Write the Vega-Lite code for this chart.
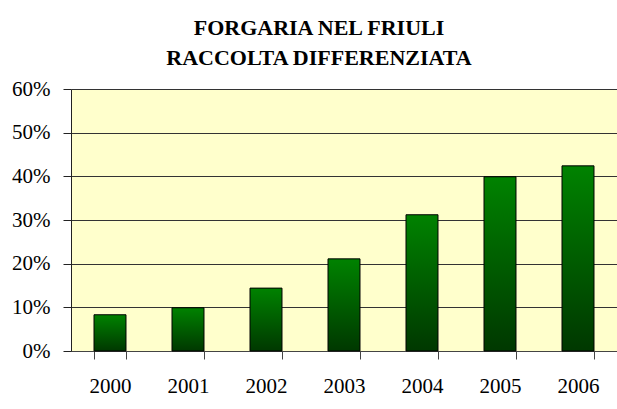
{
  "$schema": "https://vega.github.io/schema/vega-lite/v6.json",
  "width": 546,
  "height": 262,
  "autosize": {"type": "none"},
  "padding": {"left": 71, "top": 89, "right": 0, "bottom": 58},
  "background": "white",
  "title": {
    "text": ["FORGARIA NEL FRIULI", "RACCOLTA DIFFERENZIATA"],
    "font": "Liberation Serif",
    "fontSize": 22,
    "fontWeight": "bold",
    "lineHeight": 30,
    "anchor": "middle",
    "frame": "group",
    "dx": -25,
    "offset": 8,
    "color": "black"
  },
  "data": {
    "values": [
      {"anno": "2000", "valore": 0.083},
      {"anno": "2001", "valore": 0.099},
      {"anno": "2002", "valore": 0.144},
      {"anno": "2003", "valore": 0.211},
      {"anno": "2004", "valore": 0.312},
      {"anno": "2005", "valore": 0.399},
      {"anno": "2006", "valore": 0.424}
    ]
  },
  "mark": {
    "type": "bar",
    "stroke": "black",
    "strokeWidth": 1,
    "fill": {
      "gradient": "linear",
      "x1": 0, "y1": 0, "x2": 0, "y2": 1,
      "stops": [
        {"offset": 0, "color": "#008200"},
        {"offset": 1, "color": "#003800"}
      ]
    }
  },
  "encoding": {
    "x": {
      "field": "anno",
      "type": "ordinal",
      "scale": {"paddingInner": 0.59, "paddingOuter": 0.295},
      "axis": {
        "title": null,
        "labelAngle": 0,
        "tickBand": "extent",
        "tickSize": 8,
        "tickColor": "#444",
        "domainColor": "#444",
        "labelPadding": 16,
        "labelFont": "Liberation Serif",
        "labelFontSize": 21,
        "labelColor": "black",
        "grid": false
      }
    },
    "y": {
      "field": "valore",
      "type": "quantitative",
      "scale": {"domain": [0, 0.6], "nice": false},
      "axis": {
        "title": null,
        "format": ".0%",
        "values": [0, 0.1, 0.2, 0.3, 0.4, 0.5, 0.6],
        "tickSize": 8,
        "tickColor": "#222",
        "domainColor": "#222",
        "gridColor": "#333",
        "gridOpacity": 1,
        "grid": true,
        "labelPadding": 13,
        "labelFont": "Liberation Serif",
        "labelFontSize": 21,
        "labelColor": "black"
      }
    }
  },
  "config": {
    "view": {"fill": "#FFFFCC", "stroke": null}
  }
}
